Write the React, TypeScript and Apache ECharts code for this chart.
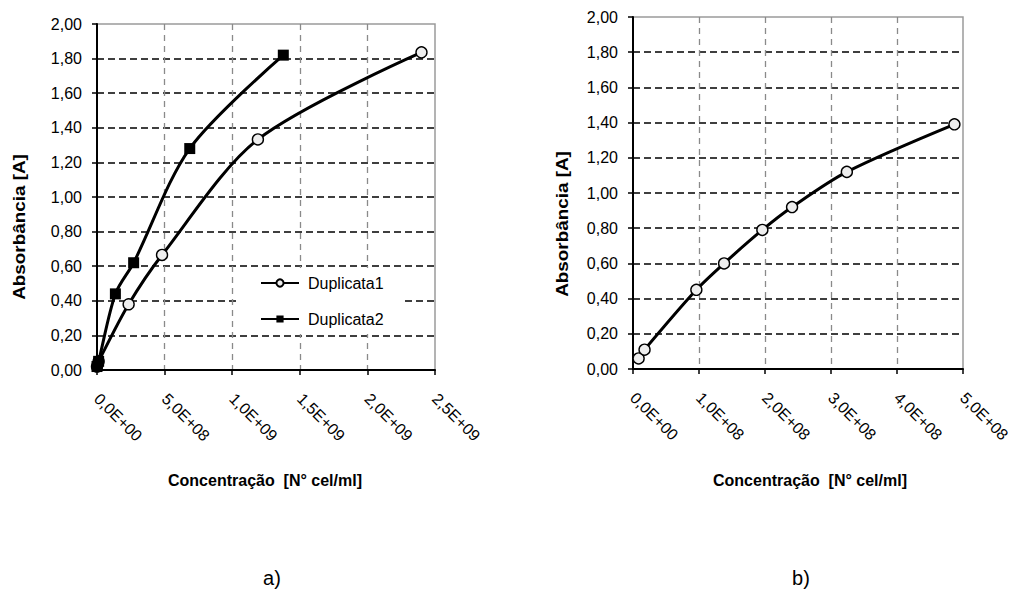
import { useEffect, useRef } from "react";
import * as echarts from "echarts";

const FONT = "'Liberation Sans', Arial, Helvetica, sans-serif";

// Panel a): two replicate calibration curves
const dup1Conc = [0, 1.2e7, 2.34e8, 4.81e8, 1.19e9, 2.4e9];
const dup1Abs = [0.02, 0.05, 0.38, 0.665, 1.333, 1.836];
const dup2Conc = [0, 1.2e7, 1.36e8, 2.71e8, 6.86e8, 1.378e9];
const dup2Abs = [0.02, 0.05, 0.44, 0.62, 1.28, 1.82];

// Panel b): single calibration curve
const curveConc = [8.5e6, 1.75e7, 9.6e7, 1.38e8, 1.96e8, 2.41e8, 3.24e8, 4.87e8];
const curveAbs = [0.06, 0.11, 0.45, 0.6, 0.79, 0.92, 1.12, 1.39];

const seriesNames = ["Duplicata1", "Duplicata2"];
const xTitle = "Concentração  [N° cel/ml]";
const yTitle = "Absorbância [A]";
const panelLabels = ["a)", "b)"];

// Axis ranges
const xMaxA = 2.5e9;
const xStepA = 5e8;
const xMaxB = 5e8;
const xStepB = 1e8;
const yMax = 2;
const yStep = 0.2;

const zip = (xs: number[], ys: number[]) => xs.map((x, i) => [x, ys[i]]);

// Excel-like scientific label: 5,0E+08
const sci = (v: number) => {
  const [m, e] = v.toExponential(1).split("e");
  const n = parseInt(e, 10);
  return m.replace(".", ",") + "E" + (n < 0 ? "-" : "+") + String(Math.abs(n)).padStart(2, "0");
};
const dec = (v: number) => v.toFixed(2).replace(".", ",");

const makeX = (gridIndex: number, max: number, interval: number) => ({
  type: "value",
  gridIndex,
  min: 0,
  max,
  interval,
  axisLine: { show: true, onZero: false, lineStyle: { color: "#000", width: 2 } },
  axisTick: { show: true, length: 5, lineStyle: { color: "#000", width: 1.5 } },
  axisLabel: {
    rotate: -45,
    margin: 26,
    formatter: sci,
    color: "#000",
    fontSize: 16,
    fontFamily: FONT,
    showMinLabel: true,
    showMaxLabel: true,
  },
  splitLine: {
    show: true,
    showMinLine: false,
    showMaxLine: false,
    lineStyle: { color: "#8a8a8a", width: 1.3, type: [6, 5] },
  },
});

const makeY = (gridIndex: number) => ({
  type: "value",
  gridIndex,
  min: 0,
  max: yMax,
  interval: yStep,
  axisLine: { show: true, onZero: false, lineStyle: { color: "#000", width: 2 } },
  axisTick: { show: true, length: 5, lineStyle: { color: "#000", width: 1.5 } },
  axisLabel: { margin: 15, formatter: dec, color: "#000", fontSize: 16, fontFamily: FONT },
  splitLine: {
    show: true,
    showMinLine: false,
    showMaxLine: false,
    lineStyle: { color: "#000", width: 1.5, type: [7, 4] },
  },
});

const textEl = (
  x: number,
  y: number,
  text: string,
  size: number,
  weight: string,
  extra: Record<string, unknown> = {}
) => ({
  type: "text",
  x,
  y,
  silent: true,
  ...extra,
  style: {
    text,
    font: `${weight} ${size}px ${FONT}`,
    fill: "#000",
    align: "center",
    verticalAlign: "middle",
    textAlign: "center",
    textVerticalAlign: "middle",
  },
});

export default function App() {
  const ref = useRef<HTMLDivElement>(null);

  useEffect(() => {
    if (!ref.current) return;
    const chart = echarts.init(ref.current, undefined, { renderer: "svg" });

    const openMarker = {
      color: "#eeeeee",
      borderColor: "#000",
      borderWidth: 1.4,
    };

    chart.setOption({
      animation: false,
      backgroundColor: "#fff",
      grid: [
        { left: 97, top: 24, width: 338, height: 346, show: true, borderColor: "#9a9a9a", borderWidth: 1.5 },
        { left: 633, top: 17, width: 330, height: 352, show: true, borderColor: "#9a9a9a", borderWidth: 1.5 },
      ],
      xAxis: [makeX(0, xMaxA, xStepA), makeX(1, xMaxB, xStepB)],
      yAxis: [makeY(0), makeY(1)],
      legend: {
        data: seriesNames,
        orient: "vertical",
        left: 238,
        top: 268,
        padding: [6, 19, 6, 22],
        itemGap: 18,
        itemWidth: 38,
        itemHeight: 9,
        backgroundColor: "#fff",
        selectedMode: false,
        textStyle: {
          fontSize: 16,
          fontFamily: FONT,
          color: "#000",
          lineHeight: 18,
          padding: [0, 0, 0, 4],
        },
      },
      series: [
        {
          name: seriesNames[0],
          type: "line",
          xAxisIndex: 0,
          yAxisIndex: 0,
          data: zip(dup1Conc, dup1Abs),
          smooth: 0.3,
          symbol: "circle",
          symbolSize: 11,
          itemStyle: openMarker,
          lineStyle: { color: "#000", width: 3 },
        },
        {
          name: seriesNames[1],
          type: "line",
          xAxisIndex: 0,
          yAxisIndex: 0,
          data: zip(dup2Conc, dup2Abs),
          smooth: 0.3,
          symbol: "rect",
          symbolSize: 11,
          itemStyle: { color: "#000" },
          lineStyle: { color: "#000", width: 3 },
        },
        {
          name: "Curva",
          type: "line",
          xAxisIndex: 1,
          yAxisIndex: 1,
          data: zip(curveConc, curveAbs),
          smooth: 0.3,
          symbol: "circle",
          symbolSize: 11,
          itemStyle: openMarker,
          lineStyle: { color: "#000", width: 3 },
        },
      ],
      graphic: [
        textEl(20, 227, yTitle, 16, "bold", { rotation: Math.PI / 2, scaleX: 1.18 }),
        textEl(563, 224, yTitle, 16, "bold", { rotation: Math.PI / 2, scaleX: 1.18 }),
        textEl(265, 480, xTitle, 16, "bold"),
        textEl(810, 480, xTitle, 16, "bold"),
        textEl(272, 578, panelLabels[0], 20, "normal"),
        textEl(801, 578, panelLabels[1], 20, "normal"),
      ],
    });

    return () => chart.dispose();
  }, []);

  return (
    <div
      ref={ref}
      style={{ position: "absolute", left: 0, top: 0, width: 1014, height: 591 }}
    />
  );
}
